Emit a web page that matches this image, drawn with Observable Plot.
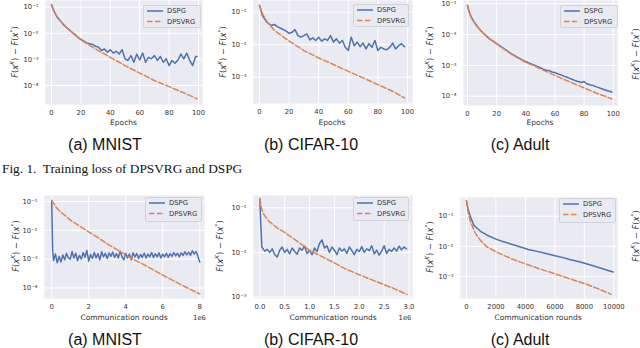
<!DOCTYPE html>
<html><head><meta charset="utf-8">
<script src="https://cdn.jsdelivr.net/npm/d3@7"></script>
<script src="https://cdn.jsdelivr.net/npm/@observablehq/plot@0.6"></script>
<style>
html,body{margin:0;padding:0;background:#fff;}
#fig{position:relative;width:640px;height:348px;overflow:hidden;font-family:"DejaVu Sans",sans-serif;background:#fff;}
#fig div{position:absolute;white-space:nowrap;}
.cap{font-family:"Liberation Sans",Arial,sans-serif;font-size:16px;line-height:16px;color:#111;transform:translateX(-50%);}
.fcap{font-family:"Liberation Serif","Times New Roman",serif;font-size:13.3px;line-height:13px;color:#111;}
.xl{font-size:7.5px;line-height:8px;color:#333;transform:translate(-50%,-50%);}
.off{font-size:6.8px;line-height:8px;color:#333;transform:translate(-50%,-50%);}
.yl{font-size:8.3px;line-height:9px;color:#333;transform:translate(-50%,-50%) rotate(-90deg);}
.leg{background:#eaeaf2;border:1px solid #d2d2da;border-radius:2px;box-sizing:border-box;}
</style></head><body><div id="fig"></div>
<script>
// ---------- text ----------
const seriesNames = ["DSPG", "DPSVRG"];
const subCaptions = ["(a) MNIST", "(b) CIFAR-10", "(c) Adult"];
const figureCaption = "Fig. 1.\u00a0 Training loss of DPSVRG and DSPG";
const epochLabel = "Epochs";
const roundsLabel = "Communication rounds";
const roundsOffsetLabel = "1e6";
const yLabelHtml = "<i>F</i>(<i>x</i><sup style='font-size:70%'><i>K</i></sup>) \u2212 <i>F</i>(<i>x</i><sup style='font-size:70%'>*</sup>)";

// ---------- ticks ----------
const epochTicks = [0, 20, 40, 60, 80, 100];
const epochTickLabels = ["0", "20", "40", "60", "80", "100"];
const mnistRoundTicks = [0, 2, 4, 6, 8];
const mnistRoundTickLabels = ["0", "2", "4", "6", "8"];
const cifarRoundTicks = [0, 0.5, 1, 1.5, 2, 2.5, 3];
const cifarRoundTickLabels = ["0.0", "0.5", "1.0", "1.5", "2.0", "2.5", "3.0"];
const adultRoundTicks = [0, 2000, 4000, 6000, 8000, 10000];
const adultRoundTickLabels = ["0", "2000", "4000", "6000", "8000", "10000"];
const lossTicks = [1e-1, 1e-2, 1e-3, 1e-4];
const lossTickLabels = ["10\u207B\u00B9", "10\u207B\u00B2", "10\u207B\u00B3", "10\u207B\u2074"];

// ---------- (a) MNIST, epochs ----------
const mnistEpochDspgX = [0,2,4,6,8,10,12,14,16,18,20,22,24,26,28,30,32,34,36,38,40,42,44,46,48,50,52,54,56,58,60,62,64,66,68,70,72,74,76,78,80,82,84,86,88,90,92,94,96,98,99];
const mnistEpochDspgY = [1.26e-1,6.3e-2,4.0e-2,3.0e-2,2.2e-2,1.7e-2,1.35e-2,1.1e-2,9.0e-3,7.0e-3,5.8e-3,5.0e-3,4.3e-3,4.0e-3,3.7e-3,3.2e-3,2.95e-3,2.2e-3,2.5e-3,1.9e-3,2.35e-3,1.75e-3,2.05e-3,1.6e-3,2.35e-3,1.05e-3,9.1e-4,1.4e-3,7.8e-4,1.6e-3,9.5e-4,1.75e-3,7.8e-4,1.2e-3,1.05e-3,1.4e-3,9.1e-4,1.3e-3,7.8e-4,1.05e-3,5.8e-4,9.1e-4,7.1e-4,9.5e-4,1.6e-3,1.05e-3,1.75e-3,9.1e-4,5.8e-4,1.3e-3,1.3e-3];
const mnistEpochDpsvrgX = [0,1,2,3,5,7,10,15,20,25,30,40,50,60,70,80,90,99];
const mnistEpochDpsvrgY = [1.15e-1,8.5e-2,6.5e-2,5.2e-2,3.5e-2,2.6e-2,1.7e-2,9.5e-3,5.6e-3,3.7e-3,2.5e-3,1.2e-3,5.8e-4,3.0e-4,1.55e-4,9.1e-5,5.2e-5,3.1e-5];

// ---------- (b) CIFAR-10, epochs ----------
const cifarEpochDspgX = [0,2,5,8,10,12,15,18,20,22,24,26,28,30,32,34,36,38,40,42,44,46,48,50,52,54,56,58,60,62,64,66,68,70,72,74,76,78,80,82,84,86,88,90,92,94,96,98];
const cifarEpochDspgY = [1.62e-1,7.9e-2,4.9e-2,3.9e-2,4.2e-2,3.6e-2,3.1e-2,2.6e-2,2.24e-2,2.4e-2,2.9e-2,1.9e-2,1.7e-2,1.9e-2,2.14e-2,1.4e-2,1.62e-2,1.35e-2,1.7e-2,1.29e-2,1.51e-2,1.35e-2,1.9e-2,1.2e-2,1.51e-2,1.12e-2,1.35e-2,8.3e-3,6.6e-3,1.7e-2,9.3e-3,1.2e-2,8.7e-3,1.12e-2,7.4e-3,1.07e-2,8.3e-3,1.35e-2,6.6e-3,8.3e-3,7.4e-3,7.0e-3,8.3e-3,1.12e-2,7.4e-3,9.3e-3,1.07e-2,8.7e-3];
const cifarEpochDpsvrgX = [0,2,5,10,20,30,40,50,60,70,80,90,98];
const cifarEpochDpsvrgY = [1.62e-1,8.9e-2,5.2e-2,2.75e-2,1.29e-2,6.6e-3,3.9e-3,2.45e-3,1.51e-3,9.5e-4,5.9e-4,3.7e-4,2.3e-4];

// ---------- (c) Adult, epochs ----------
const adultEpochDspgX = [0,1,2,3,5,7,10,15,20,25,30,35,40,45,48,50,52,54,56,58,60,62,64,66,68,70,72,74,76,78,80,82,84,86,88,90,92,94,96,98,99];
const adultEpochDspgY = [9.0e-2,5.7e-2,4.3e-2,3.35e-2,2.4e-2,1.78e-2,1.22e-2,7.4e-3,5.1e-3,3.5e-3,2.4e-3,1.76e-3,1.32e-3,1.05e-3,9.3e-4,8.4e-4,7.6e-4,7.0e-4,6.8e-4,6.1e-4,5.9e-4,5.3e-4,5.0e-4,4.5e-4,4.2e-4,3.8e-4,3.5e-4,3.2e-4,3.0e-4,2.8e-4,3.0e-4,2.5e-4,2.35e-4,2.25e-4,2.05e-4,1.9e-4,1.75e-4,1.62e-4,1.5e-4,1.42e-4,1.35e-4];
const adultEpochDpsvrgX = [0,1,2,3,5,7,10,15,20,25,30,35,40,45,50,55,60,65,70,75,80,85,90,95,99];
const adultEpochDpsvrgY = [8.9e-2,5.6e-2,4.2e-2,3.3e-2,2.34e-2,1.74e-2,1.2e-2,7.2e-3,5.0e-3,3.4e-3,2.34e-3,1.7e-3,1.26e-3,1.0e-3,7.8e-4,6.0e-4,4.7e-4,3.7e-4,2.95e-4,2.34e-4,1.86e-4,1.48e-4,1.17e-4,9.8e-5,8.1e-5];

// ---------- (a) MNIST, communication rounds (x 1e6) ----------
const mnistRoundDspgX = [0,0.05,0.1,0.2,0.3,0.4,0.5,0.6,0.7,0.8,0.9,1.0,1.1,1.2,1.3,1.4,1.5,1.6,1.7,1.8,1.9,2.0,2.1,2.2,2.3,2.4,2.5,2.6,2.7,2.8,2.9,3.0,3.1,3.2,3.3,3.4,3.5,3.6,3.7,3.8,3.9,4.0,4.1,4.2,4.3,4.4,4.5,4.6,4.7,4.8,4.9,5.0,5.1,5.2,5.3,5.4,5.5,5.6,5.7,5.8,5.9,6.0,6.1,6.2,6.3,6.4,6.5,6.6,6.7,6.8,6.9,7.0,7.1,7.2,7.3,7.4,7.5,7.6,7.7,7.8,7.9,8.0];
const mnistRoundDspgY = [1.07e-1,2.0e-3,9.0e-4,1.5e-3,7.5e-4,1.25e-3,8.0e-4,1.4e-3,9.5e-4,1.6e-3,1.1e-3,1.0e-3,1.85e-3,1.1e-3,1.6e-3,9.0e-4,1.35e-3,1.0e-3,1.7e-3,1.15e-3,2.0e-3,8.5e-4,1.45e-3,1.05e-3,1.7e-3,1.1e-3,1.55e-3,9.5e-4,1.8e-3,1.2e-3,1.6e-3,1.05e-3,1.65e-3,1.25e-3,1.75e-3,1.15e-3,1.55e-3,1.1e-3,1.9e-3,1.2e-3,9.5e-4,1.6e-3,1.1e-3,1.5e-3,9.5e-4,1.65e-3,1.2e-3,1.55e-3,1.05e-3,1.45e-3,1.15e-3,1.6e-3,1.1e-3,1.5e-3,1.2e-3,1.7e-3,1.15e-3,1.55e-3,1.2e-3,1.65e-3,1.1e-3,1.5e-3,1.2e-3,1.6e-3,1.15e-3,1.55e-3,1.25e-3,1.7e-3,1.3e-3,1.6e-3,1.2e-3,1.65e-3,1.35e-3,1.8e-3,1.4e-3,1.75e-3,1.35e-3,1.95e-3,1.5e-3,1.85e-3,1.3e-3,8.0e-4];
const mnistRoundDpsvrgX = [0,0.25,0.5,0.75,1,1.5,2,2.5,3,3.5,4,4.5,5,5.5,6,6.5,7,7.5,8];
const mnistRoundDpsvrgY = [1.1e-1,6.2e-2,4.2e-2,3.16e-2,2.3e-2,1.41e-2,8.9e-3,5.6e-3,3.4e-3,2.2e-3,1.41e-3,9.3e-4,6.3e-4,4.2e-4,2.8e-4,1.9e-4,1.29e-4,8.9e-5,6.2e-5];

// ---------- (b) CIFAR-10, communication rounds (x 1e6) ----------
const cifarRoundDspgX = [0,0.02,0.04,0.1,0.15,0.2,0.25,0.3,0.35,0.4,0.45,0.5,0.55,0.6,0.65,0.7,0.75,0.8,0.85,0.9,0.95,1.0,1.05,1.1,1.15,1.2,1.25,1.3,1.35,1.4,1.45,1.5,1.55,1.6,1.65,1.7,1.75,1.8,1.85,1.9,1.95,2.0,2.05,2.1,2.15,2.2,2.25,2.3,2.35,2.4,2.45,2.5,2.55,2.6,2.65,2.7,2.75,2.8,2.85,2.9,2.95];
const cifarRoundDspgY = [1.62e-1,4.0e-2,1.32e-2,1.07e-2,1.17e-2,1.0e-2,1.2e-2,8.9e-3,7.9e-3,1.12e-2,1.32e-2,1.0e-2,1.17e-2,9.3e-3,1.26e-2,1.05e-2,9.1e-3,1.26e-2,1.12e-2,1.38e-2,9.5e-3,1.12e-2,8.9e-3,1.26e-2,1.05e-2,1.58e-2,1.9e-2,1.26e-2,1.41e-2,1.0e-2,1.32e-2,1.12e-2,8.9e-3,1.26e-2,1.07e-2,1.2e-2,9.5e-3,1.32e-2,1.1e-2,8.9e-3,1.17e-2,1.05e-2,1.35e-2,1.0e-2,1.2e-2,1.1e-2,1.41e-2,9.3e-3,1.12e-2,8.7e-3,1.07e-2,1.41e-2,9.5e-3,1.17e-2,1.05e-2,1.26e-2,1.07e-2,1.38e-2,1.15e-2,1.32e-2,1.2e-2];
const cifarRoundDpsvrgX = [0,0.03,0.08,0.18,0.35,0.5,0.75,1.0,1.35,1.7,2.0,2.35,2.7,2.96];
const cifarRoundDpsvrgY = [1.62e-1,1.0e-1,7.1e-2,5.0e-2,3.55e-2,2.8e-2,1.78e-2,1.12e-2,7.1e-3,4.4e-3,3.16e-3,2.2e-3,1.55e-3,1.15e-3];

// ---------- (c) Adult, communication rounds ----------
const adultRoundDspgX = [0,100,270,500,950,1400,2000,2530,3000,3670,4200,4800,5400,5930,6500,7060,7600,8190,8700,9300,9780,9950];
const adultRoundDspgY = [3.2e-1,1.78e-1,9.5e-2,5.0e-2,3.16e-2,2.34e-2,1.74e-2,1.41e-2,1.2e-2,9.5e-3,7.9e-3,6.8e-3,5.8e-3,5.0e-3,4.3e-3,3.6e-3,3.16e-3,2.6e-3,2.2e-3,1.78e-3,1.5e-3,1.4e-3];
const adultRoundDpsvrgX = [0,100,270,620,950,1400,2000,2530,3100,3670,4800,5930,7060,8190,9000,9800];
const adultRoundDpsvrgY = [3.2e-1,1.41e-1,6.5e-2,2.6e-2,1.58e-2,9.5e-3,6.6e-3,5.0e-3,3.8e-3,3.0e-3,1.9e-3,1.26e-3,8.3e-4,5.4e-4,3.8e-4,2.6e-4];

// ---------- layout ----------
const colors = {DSPG: "#4c72b0", DPSVRG: "#dd8452"};
const dashes = {DSPG: null, DPSVRG: "5.5,2.4"};

const panels = [
  {svg:[0,0,210,130], plot:[45,0,202,104], xDomain:[-4.1,102.7], yDomain:[1.87e-5,0.181], xTicks:epochTicks, xTickLabels:epochTickLabels, yTicks:lossTicks,
   dspg:[mnistEpochDspgX, mnistEpochDspgY], dpsvrg:[mnistEpochDpsvrgX, mnistEpochDpsvrgY], legend:[143,5,58,23]},
  {svg:[210,0,210,130], plot:[253,0,412,103], xDomain:[-4.05,103.4], yDomain:[1.55e-4,0.229], xTicks:epochTicks, xTickLabels:epochTickLabels, yTicks:lossTicks.slice(0,3),
   dspg:[cifarEpochDspgX, cifarEpochDspgY], dpsvrg:[cifarEpochDpsvrgX, cifarEpochDpsvrgY], legend:[353,4,56,23]},
  {svg:[420,0,215,130], plot:[463,0,617,105], xDomain:[-2.75,102.9], yDomain:[5.0e-5,0.128], xTicks:epochTicks, xTickLabels:epochTickLabels, yTicks:lossTicks,
   dspg:[adultEpochDspgX, adultEpochDspgY], dpsvrg:[adultEpochDpsvrgX, adultEpochDpsvrgY], legend:[560,5,58,23]},
  {svg:[0,190,210,135], plot:[44,195,204,298], xDomain:[-0.39,8.26], yDomain:[4.3e-5,0.162], xTicks:mnistRoundTicks, xTickLabels:mnistRoundTickLabels, yTicks:lossTicks,
   dspg:[mnistRoundDspgX, mnistRoundDspgY], dpsvrg:[mnistRoundDpsvrgX, mnistRoundDpsvrgY], legend:[145,197,57,25]},
  {svg:[210,190,210,135], plot:[253,195,412,298], xDomain:[-0.127,3.07], yDomain:[9.3e-4,0.188], xTicks:cifarRoundTicks, xTickLabels:cifarRoundTickLabels, yTicks:lossTicks.slice(0,3),
   dspg:[cifarRoundDspgX, cifarRoundDspgY], dpsvrg:[cifarRoundDpsvrgX, cifarRoundDpsvrgY], legend:[353,197,56,24]},
  {svg:[420,190,215,135], plot:[460,197,617,298], xDomain:[-407,10250], yDomain:[1.86e-4,0.417], xTicks:adultRoundTicks, xTickLabels:adultRoundTickLabels, yTicks:lossTicks.slice(0,3),
   dspg:[adultRoundDspgX, adultRoundDspgY], dpsvrg:[adultRoundDpsvrgX, adultRoundDpsvrgY], legend:[559,198,57,25]}
];

const fig = document.getElementById("fig");
function addDiv(cls, html, css) {
  const d = document.createElement("div");
  d.className = cls; d.innerHTML = html; d.style.cssText += css;
  fig.appendChild(d); return d;
}
function table(xs, ys) { return xs.map((x, i) => ({x, y: ys[i]})); }

function drawPanel(p) {
  const [sx, sy, sw, sh] = p.svg;
  const [pl, pt, pr, pb] = p.plot;
  const chart = Plot.plot({
    width: sw, height: sh,
    marginLeft: pl - sx, marginTop: pt - sy, marginRight: sx + sw - pr, marginBottom: sy + sh - pb,
    style: {background: "transparent", color: "#333", fontFamily: "DejaVu Sans, sans-serif", fontSize: "6.8px", overflow: "visible"},
    x: {domain: p.xDomain, ticks: p.xTicks, tickFormat: d => p.xTickLabels[p.xTicks.indexOf(d)], tickSize: 0, tickPadding: 6, label: null},
    y: {type: "log", domain: p.yDomain, ticks: p.yTicks, tickFormat: d => lossTickLabels[lossTicks.indexOf(d)], tickSize: 0, tickPadding: 7, label: null},
    marks: [
      Plot.frame({fill: "#eaeaf2", stroke: "none"}),
      Plot.ruleX(p.xTicks, {stroke: "white", strokeWidth: 1}),
      Plot.ruleY(p.yTicks, {stroke: "white", strokeWidth: 1}),
      Plot.line(table(p.dspg[0], p.dspg[1]), {x: "x", y: "y", stroke: colors.DSPG, strokeWidth: 1.5}),
      Plot.line(table(p.dpsvrg[0], p.dpsvrg[1]), {x: "x", y: "y", stroke: colors.DPSVRG, strokeWidth: 1.5, strokeDasharray: dashes.DPSVRG})
    ]
  });
  chart.style.position = "absolute";
  chart.style.left = sx + "px";
  chart.style.top = sy + "px";
  fig.appendChild(chart);

  // legend
  const [lx, ly, lw, lh] = p.legend;
  const box = addDiv("leg", "", `left:${lx}px;top:${ly}px;width:${lw}px;height:${lh}px;`);
  const svg = d3.select(box).append("svg").attr("width", lw).attr("height", lh)
    .style("position", "absolute").style("left", "-1px").style("top", "-1px");
  seriesNames.forEach((name, i) => {
    const yy = 6 + i * 10.5;
    svg.append("line").attr("x1", 4).attr("x2", 20).attr("y1", yy).attr("y2", yy)
      .attr("stroke", colors[name]).attr("stroke-width", 1.5)
      .attr("stroke-dasharray", dashes[name]);
    svg.append("text").attr("x", 24).attr("y", yy).attr("dy", "0.35em")
      .attr("font-family", "DejaVu Sans, sans-serif").attr("font-size", "6.8px").attr("fill", "#333").text(name);
  });
}
panels.forEach(drawPanel);

// axis titles
const xTitlePos = [[123.5,123],[332,123],[540,123],[124,318],[333,318],[538,318]];
xTitlePos.forEach(([x, y], i) => addDiv("xl", i < 3 ? epochLabel : roundsLabel, `left:${x}px;top:${y}px;`));
[[199.5,318],[405,318]].forEach(([x, y]) => addDiv("off", roundsOffsetLabel, `left:${x}px;top:${y}px;`));
const yTitlePos = [[14,52],[222,52],[429,52],[15,246],[219,246],[429,247],[634.5,54],[634.5,236]];
yTitlePos.forEach(([x, y]) => addDiv("yl", yLabelHtml, `left:${x}px;top:${y}px;`));

// captions
const capX = [105, 311, 520];
subCaptions.forEach((c, i) => {
  addDiv("cap", c, `left:${capX[i]}px;top:137px;`);
  addDiv("cap", c, `left:${capX[i]}px;top:331.5px;`);
});
addDiv("fcap", figureCaption, "left:2px;top:162px;");
</script></body></html>
